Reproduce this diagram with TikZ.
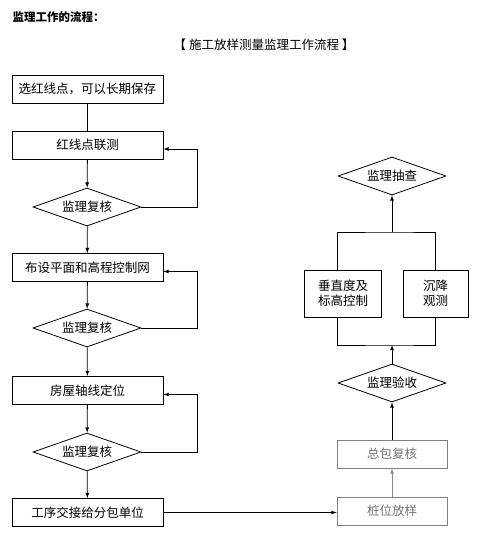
\documentclass[tikz,border=0pt]{standalone}
\usepackage{fontspec}
\setmainfont{Noto Sans CJK SC}
\usetikzlibrary{shapes.geometric,arrows}
\tikzset{>=latex}
\tikzset{
  box/.style = {draw, thick, minimum height=28pt, inner sep=0pt},
  check/.style = {draw, thick, diamond, aspect=2.9, inner sep=0pt,
                  minimum width=108pt, minimum height=38pt},
  flow/.style = {->, thick},
  faded/.style = {draw=black!50, text=black!55}
}

\begin{document}
\begin{tikzpicture}[x=1pt,y=-1pt,font=\fontsize{12.5}{15}\selectfont]
  \useasboundingbox (0,0) rectangle (482,560);
  % headings
  \node[anchor=west,font=\fontsize{11.5}{14}\selectfont\bfseries] (title) at (9,17) {监理工作的流程：};
  \node (caption) at (264,45) {【\ 施工放样测量监理工作流程\ 】};
  % left column
  \node[box, minimum width=151pt] (redline) at (87.5,89) {选红线点，可以长期保存};
  \node[box, minimum width=151pt] (linkage) at (87.5,145) {红线点联测};
  \node[check] (check1) at (87,207) {监理复核};
  \node[box, minimum width=151pt] (network) at (87.5,267.5) {布设平面和高程控制网};
  \node[check] (check2) at (87,328) {监理复核};
  \node[box, minimum width=151pt] (axis) at (87.5,390.5) {房屋轴线定位};
  \node[check] (check3) at (87,452) {监理复核};
  \node[box, minimum width=151pt] (handover) at (87.5,512.5) {工序交接给分包单位};
  \draw[thick] (redline) -- (linkage);
  \draw[flow] (linkage) -- (check1);
  \draw[flow] (check1) -- (network);
  \draw[flow] (network) -- (check2);
  \draw[flow] (check2) -- (axis);
  \draw[flow] (axis) -- (check3);
  \draw[flow] (check3) -- (handover);
  \draw[flow] (check1.east) -- ++(56,0) |- ([yshift=-4]linkage.east);
  \draw[flow] (check2.east) -- ++(56,0) |- ([yshift=-4]network.east);
  \draw[flow] (check3.east) -- ++(56,0) |- ([yshift=-4]axis.east);
  % right column
  \node[box, faded, minimum width=110pt] (stakeout) at (392,511) {桩位放样};
  \node[box, faded, minimum width=110pt] (recheck) at (392,454) {总包复核};
  \node[check] (accept) at (392,383) {监理验收};
  \node[box, minimum width=77pt, minimum height=47pt, align=center] (vertical) at (343,293.5) {垂直度及\\标高控制};
  \node[box, minimum width=65pt, minimum height=47pt, align=center] (settle) at (435.5,293.5) {沉降\\观测};
  \node[check] (inspect) at (392,176) {监理抽查};
  \draw[flow] (handover.east) -- (handover.east -| stakeout.west);
  \draw[flow, black!45] (stakeout) -- (recheck);
  \draw[flow] (recheck) -- (accept);
  \coordinate (lower) at (392,345);
  \coordinate (upper) at (392,232);
  \draw[flow] (accept) -- (lower);
  \draw[thick] ([xshift=-6]vertical.south) |- (lower) -| (settle.south);
  \draw[thick] ([xshift=-6]vertical.north) |- (upper) -| (settle.north);
  \draw[flow] (upper) -- (inspect);
\end{tikzpicture}
\end{document}
